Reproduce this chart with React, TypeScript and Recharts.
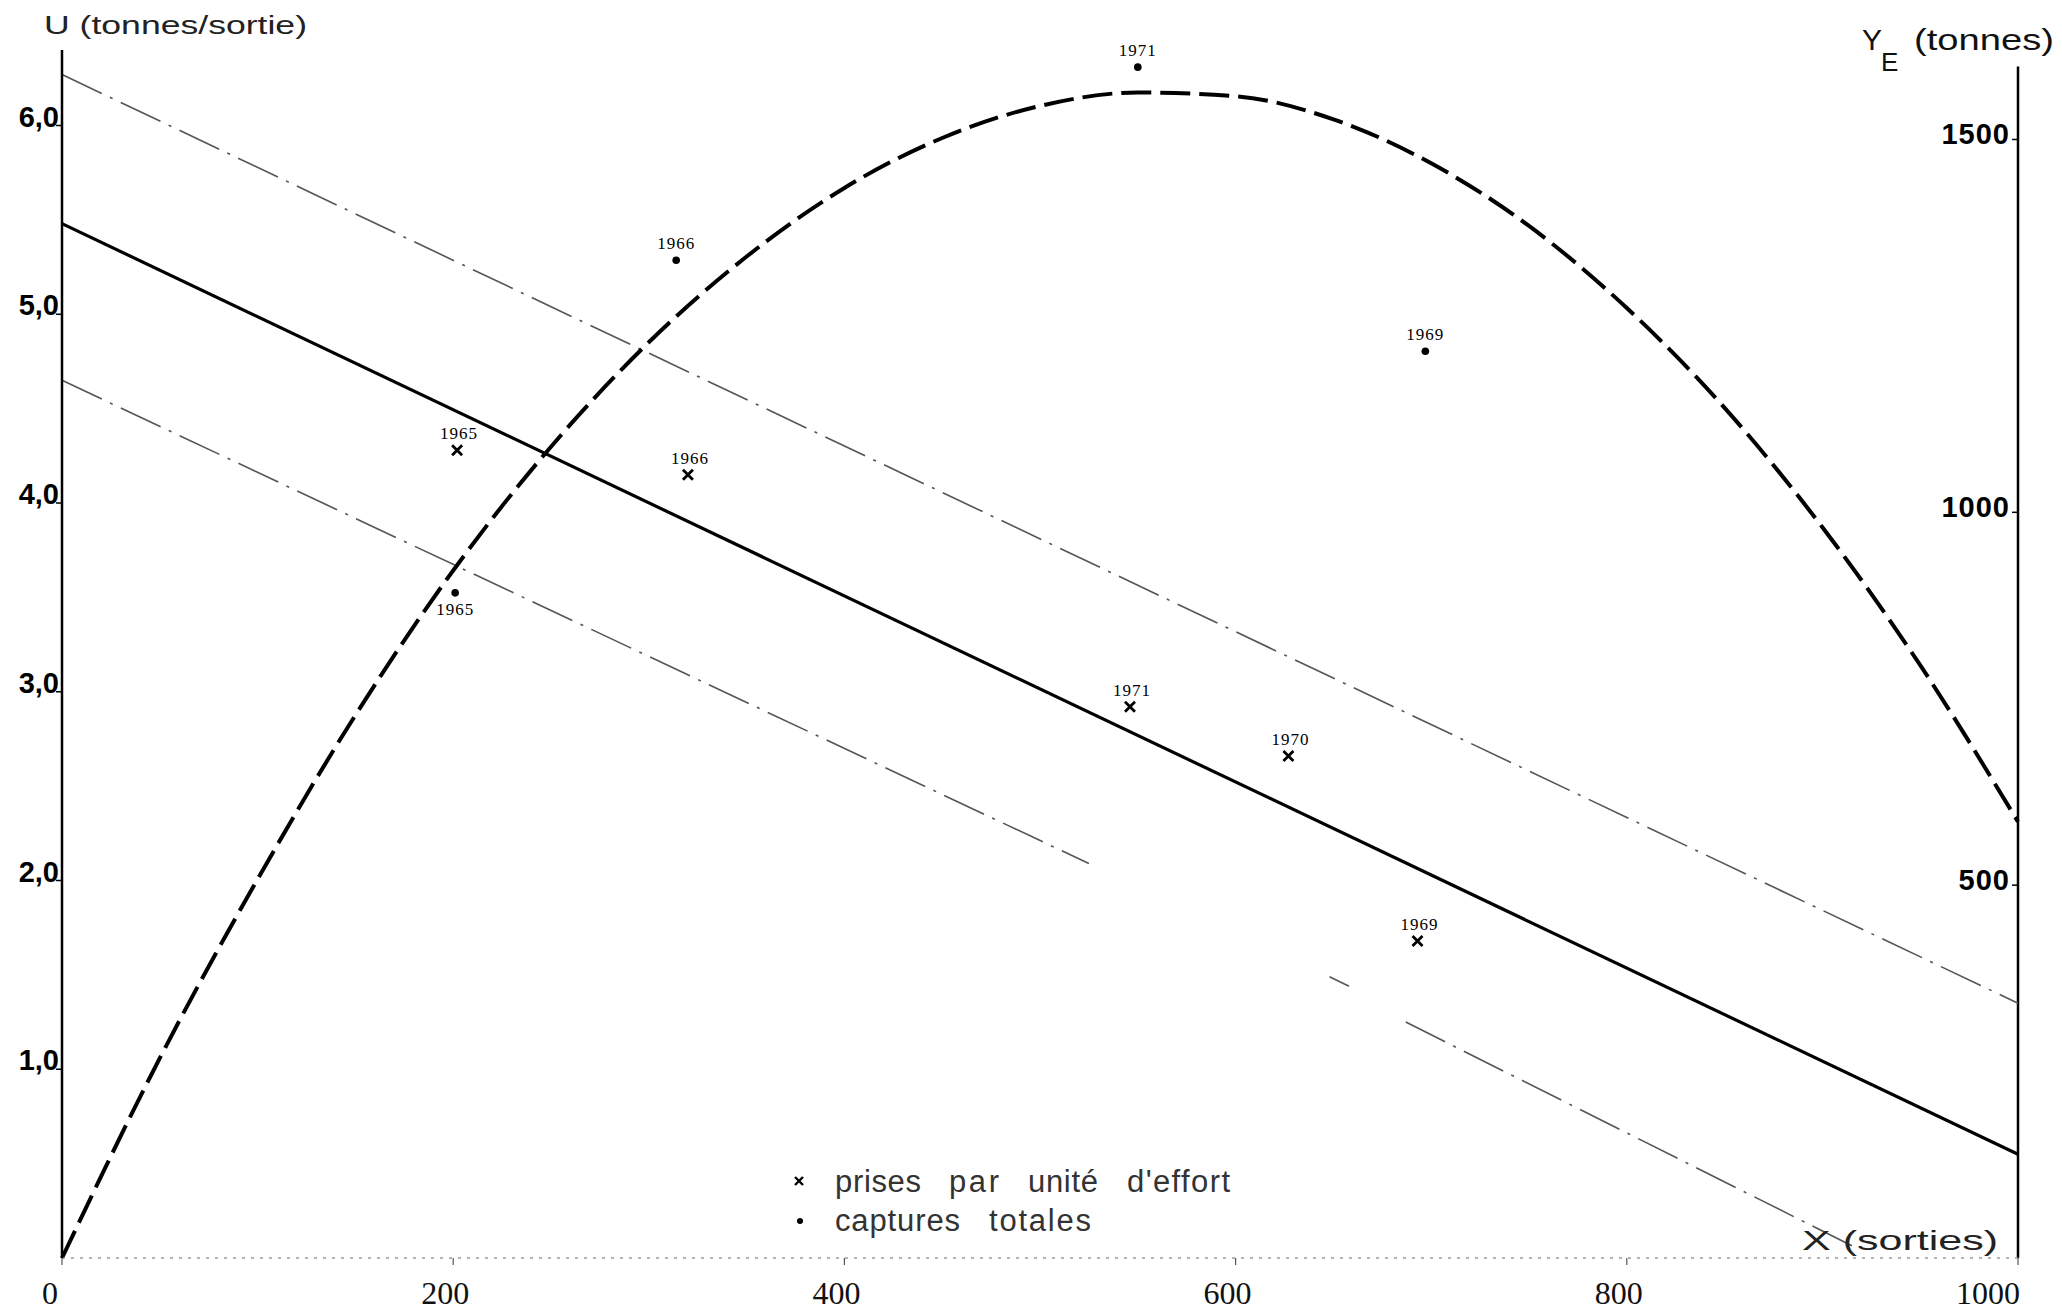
import React from 'react';
import { ComposedChart, Line, Scatter, XAxis, YAxis, ReferenceLine } from 'recharts';

// ---- axis ticks ----
const xTicks = [0, 200, 400, 600, 800, 1000];
const uTicks = [1, 2, 3, 4, 5, 6];
const yTicks = [500, 1000, 1500];

// ---- regression line U = f(X) (solid) ----
const solidX = [0, 1000];
const solidU = [5.48, 0.55];

// ---- upper confidence line (dash-dot) ----
const upperX = [0, 1000];
const upperU = [6.27, 1.35];

// ---- lower confidence line (dash-dot, broken in the original) ----
const lowerX = [0, 525, 590, 648, 658, 672, 687, 916];
const lowerU: (number | null)[] = [4.65, 2.09, null, 1.49, 1.44, null, 1.25, 0.06];

// ---- equilibrium yield curve Y_E (dashed) ----
const curveX = [0, 50, 100, 150, 200, 250, 300, 350, 400, 450, 500, 550, 600, 650, 700, 750, 800, 850, 900, 950, 1000];
const curveY = [0, 268, 508, 728, 922, 1088, 1228, 1343, 1435, 1502, 1545, 1563, 1558, 1527, 1468, 1384, 1274, 1140, 980, 795, 585];

// ---- observed catch per unit effort (x marks) ----
const cpueYears = ['1965', '1966', '1971', '1970', '1969'];
const cpueX = [202, 320, 546, 627, 693];
const cpueU = [4.28, 4.15, 2.92, 2.66, 1.68];

// ---- observed total catches (dots) ----
const catchYears = ['1965', '1966', '1971', '1969'];
const catchX = [201, 314, 550, 697];
const catchY = [892, 1338, 1597, 1216];

// ---- right-axis extent (top of the drawn Y_E axis) ----
const rightAxisTop = 1598;

const solidData = solidX.map((x, i) => ({ x, u: solidU[i] }));
const upperData = upperX.map((x, i) => ({ x, u: upperU[i] }));
const lowerData = lowerX.map((x, i) => ({ x, u: lowerU[i] }));
const curveData = curveX.map((x, i) => ({ x, y: curveY[i] }));
const cpueData = cpueX.map((x, i) => ({ x, u: cpueU[i], year: cpueYears[i] }));
const catchData = catchX.map((x, i) => ({ x, y: catchY[i], year: catchYears[i] }));

const fmtU = (v: number) => v.toFixed(1).replace('.', ',');

const LeftTick = (p: any) => {
  const { x, y, payload } = p;
  return (
    <g>
      <line x1={x - 6} x2={x} y1={y} y2={y} stroke="#000" strokeWidth={1.5} />
      <text x={x - 3} y={y + 1} textAnchor="end" fontFamily="Liberation Sans" fontWeight="bold" fontSize={29} fill="#000">
        {fmtU(payload.value)}
      </text>
    </g>
  );
};

const RightTick = (p: any) => {
  const { x, y, payload } = p;
  return (
    <g>
      <line x1={x - 6} x2={x} y1={y} y2={y} stroke="#000" strokeWidth={1.5} />
      <text x={x - 8} y={y + 5} textAnchor="end" fontFamily="Liberation Sans" fontWeight="bold" fontSize={29} letterSpacing={1} fill="#000">
        {payload.value}
      </text>
    </g>
  );
};

const BottomTick = (p: any) => {
  const { x, y, payload } = p;
  const shift = payload.value === 1000 ? -30 : payload.value === 0 ? -12 : -8;
  return (
    <g>
      <line x1={x} x2={x} y1={y} y2={y + 7} stroke="#555" strokeWidth={1.2} />
      <text x={x + shift} y={y + 46} textAnchor="middle" fontFamily="Liberation Serif" fontSize={32} fill="#111">
        {payload.value}
      </text>
    </g>
  );
};

const CrossShape = (p: any) => {
  const { cx, cy, payload } = p;
  const s = 5;
  return (
    <g>
      <path d={`M${cx - s},${cy - s}L${cx + s},${cy + s}M${cx + s},${cy - s}L${cx - s},${cy + s}`} stroke="#000" strokeWidth={2.8} />
      <text x={cx + 2} y={cy - 11} textAnchor="middle" fontFamily="Liberation Serif" fontSize={17} letterSpacing={1} fill="#000">
        {payload.year}
      </text>
    </g>
  );
};

const DotShape = (p: any) => {
  const { cx, cy, payload } = p;
  const below = payload.year === '1965';
  return (
    <g>
      <circle cx={cx} cy={cy} r={3.8} fill="#000" />
      <text x={cx} y={below ? cy + 22 : cy - 11} textAnchor="middle" fontFamily="Liberation Serif" fontSize={17} letterSpacing={1} fill="#000">
        {payload.year}
      </text>
    </g>
  );
};

const legendFont = { fontFamily: 'Liberation Sans', fontSize: 31, fill: '#333' };

export default function App() {
  return (
    <div style={{ position: 'absolute', left: 0, top: 0, width: 2062, height: 1312, background: '#fff' }}>
      <style>{'body{margin:0;background:#fff;}'}</style>
      <ComposedChart width={2062} height={1312} margin={{ top: 50, right: 0, bottom: 0, left: 0 }}>
        <XAxis
          dataKey="x"
          type="number"
          domain={[0, 1000]}
          ticks={xTicks}
          height={54}
          tickSize={0}
          tickMargin={0}
          tick={<BottomTick />}
          axisLine={{ stroke: '#999', strokeWidth: 1.3, strokeDasharray: '3 6' }}
          tickLine={false}
        />
        <YAxis
          yAxisId="u"
          orientation="left"
          type="number"
          domain={[0, 6.4]}
          ticks={uTicks}
          width={62}
          tickSize={0}
          tickMargin={0}
          tick={<LeftTick />}
          axisLine={{ stroke: '#000', strokeWidth: 2.5 }}
          tickLine={false}
        />
        <YAxis
          yAxisId="y"
          orientation="right"
          type="number"
          domain={[0, 1620]}
          ticks={yTicks}
          width={44}
          tickSize={0}
          tickMargin={0}
          tick={<RightTick />}
          axisLine={false}
          tickLine={false}
        />
        <ReferenceLine
          yAxisId="y"
          segment={[{ x: 1000, y: 0 }, { x: 1000, y: rightAxisTop }]}
          stroke="#000"
          strokeWidth={2.5}
          ifOverflow="visible"
        />
        <Line data={upperData} dataKey="u" yAxisId="u" type="linear" stroke="#555" strokeWidth={1.6} strokeDasharray="44 9 3 9" dot={false} isAnimationActive={false} />
        <Line data={lowerData} dataKey="u" yAxisId="u" type="linear" stroke="#555" strokeWidth={1.6} strokeDasharray="44 9 3 9" dot={false} isAnimationActive={false} />
        <Line data={solidData} dataKey="u" yAxisId="u" type="linear" stroke="#000" strokeWidth={3.2} dot={false} isAnimationActive={false} />
        <Line data={curveData} dataKey="y" yAxisId="y" type="monotone" stroke="#000" strokeWidth={4} strokeDasharray="30 9" dot={false} isAnimationActive={false} />
        <Scatter data={cpueData} dataKey="u" yAxisId="u" shape={<CrossShape />} isAnimationActive={false} />
        <Scatter data={catchData} dataKey="y" yAxisId="y" shape={<DotShape />} isAnimationActive={false} />
      </ComposedChart>
      <svg width={2062} height={1312} style={{ position: 'absolute', left: 0, top: 0, pointerEvents: 'none' }}>
        <text x={44} y={34} fontFamily="Liberation Sans" fontSize={25} textLength={263} lengthAdjust="spacingAndGlyphs" fill="#222">
          U (tonnes/sortie)
        </text>
        <text x={1862} y={50} fontFamily="Liberation Sans" fontSize={30} fill="#111">Y</text>
        <text x={1881} y={71} fontFamily="Liberation Sans" fontSize={26} fill="#111">E</text>
        <text x={1914} y={50} fontFamily="Liberation Sans" fontSize={29} textLength={140} lengthAdjust="spacingAndGlyphs" fill="#111">
          (tonnes)
        </text>
        <text x={1802} y={1250} fontFamily="Liberation Sans" fontSize={28} textLength={196} lengthAdjust="spacingAndGlyphs" fill="#222">
          X (sorties)
        </text>
        <path d="M795,1177L803,1185M803,1177L795,1185" stroke="#000" strokeWidth={2.4} />
        <text x={835} y={1192} {...legendFont} textLength={86} lengthAdjust="spacing">prises</text>
        <text x={949} y={1192} {...legendFont} textLength={50} lengthAdjust="spacing">par</text>
        <text x={1028} y={1192} {...legendFont} textLength={70} lengthAdjust="spacing">unité</text>
        <text x={1127} y={1192} {...legendFont} textLength={103} lengthAdjust="spacing">d'effort</text>
        <circle cx={800} cy={1221} r={3} fill="#000" />
        <text x={835} y={1231} {...legendFont} textLength={125} lengthAdjust="spacing">captures</text>
        <text x={989} y={1231} {...legendFont} textLength={102} lengthAdjust="spacing">totales</text>
      </svg>
    </div>
  );
}
